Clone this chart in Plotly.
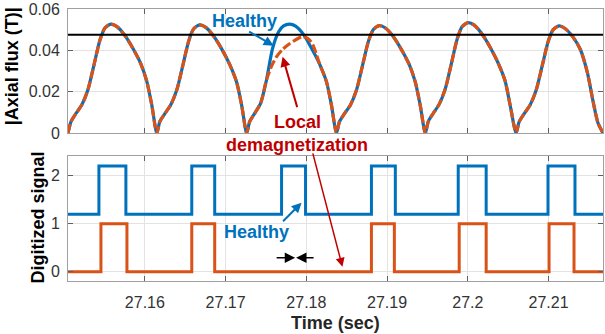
import plotly.graph_objects as go

# ---------------- data ----------------
X_START, X_END = 27.15048, 27.21674
x_ticks = [27.16, 27.17, 27.18, 27.19, 27.20, 27.21]
x_tick_labels = ["27.16", "27.17", "27.18", "27.19", "27.2", "27.21"]
threshold = 0.0475

# |Axial flux| samples, cycle by cycle (time in s, flux in T)
c1_t = [27.15048, 27.15085, 27.15147, 27.15221, 27.15295, 27.15369, 27.15444, 27.15505,
        27.15579, 27.15654, 27.15753, 27.15851, 27.15950, 27.16024, 27.16086]
c1_v = [0, 0.0055, 0.0095, 0.0138, 0.021, 0.0328, 0.045, 0.0508,
        0.0527, 0.0515, 0.0472, 0.041, 0.0335, 0.025, 0.0135]

c2_t = [27.16148, 27.16185, 27.16247, 27.16321, 27.16395, 27.16469, 27.16544, 27.16605,
        27.16679, 27.16754, 27.16853, 27.16951, 27.17050, 27.17135, 27.17199]
c2_v = [0, 0.0055, 0.0094, 0.0137, 0.0208, 0.0325, 0.0447, 0.0504,
        0.0523, 0.0511, 0.0468, 0.0407, 0.0332, 0.0248, 0.0134]

c3_healthy_t = [27.17261, 27.17298, 27.17360, 27.17434, 27.17508, 27.17582, 27.17657, 27.17718,
                27.17792, 27.17867, 27.17966, 27.18064, 27.18163, 27.18248, 27.18311]
c3_healthy_v = [0, 0.0055, 0.0095, 0.0145, 0.026, 0.041, 0.049, 0.0518,
                0.0527, 0.0517, 0.0476, 0.041, 0.0335, 0.025, 0.0135]

c3_demag_t = [27.17261, 27.17298, 27.17360, 27.17434, 27.17508, 27.17570, 27.17632, 27.17706,
              27.17792, 27.17891, 27.17953, 27.18015, 27.18077, 27.18163, 27.18248, 27.18311]
c3_demag_v = [0, 0.0055, 0.0095, 0.0145, 0.026, 0.0325, 0.037, 0.0405,
              0.0432, 0.0456, 0.0466, 0.0458, 0.043, 0.0335, 0.025, 0.0135]

c4_t = [27.18373, 27.18410, 27.18472, 27.18546, 27.18620, 27.18694, 27.18769, 27.18830,
        27.18904, 27.18979, 27.19078, 27.19176, 27.19275, 27.19349, 27.19411]
c4_v = [0, 0.0055, 0.0094, 0.0136, 0.0207, 0.0324, 0.0444, 0.0501,
        0.052, 0.0508, 0.0466, 0.0405, 0.0331, 0.0247, 0.0133]

c5_t = [27.19473, 27.19510, 27.19572, 27.19646, 27.19720, 27.19794, 27.19869, 27.19930,
        27.20004, 27.20079, 27.20178, 27.20276, 27.20375, 27.20461, 27.20523]
c5_v = [0, 0.0056, 0.0096, 0.014, 0.0213, 0.0332, 0.0456, 0.0515,
        0.0534, 0.0522, 0.0478, 0.0415, 0.0339, 0.0253, 0.0137]

c6_t = [27.20598, 27.20635, 27.20697, 27.20771, 27.20845, 27.20919, 27.20994, 27.21055,
        27.21129, 27.21204, 27.21303, 27.21395, 27.21482, 27.21550, 27.21611, 27.21674]
c6_v = [0, 0.0054, 0.0093, 0.0136, 0.0206, 0.0322, 0.0442, 0.0499,
        0.0518, 0.0506, 0.0464, 0.0403, 0.029, 0.0155, 0.005, 0]

# digitized signal pulse edges (s)
healthy_rise = [27.15431, 27.16581, 27.17693, 27.18806, 27.19881, 27.20993]
healthy_fall = [27.15765, 27.16865, 27.17990, 27.19102, 27.20227, 27.21327]
demag_rise = [27.15456, 27.16581, 27.18806, 27.19893, 27.21006]
demag_fall = [27.15778, 27.16865, 27.19090, 27.20227, 27.21315]
healthy_levels = (1.2, 2.2)
demag_levels = (0.0, 1.0)

# ---------------- build traces ----------------
healthy_t = c1_t + c2_t + c3_healthy_t + c4_t + c5_t + c6_t
healthy_v = c1_v + c2_v + c3_healthy_v + c4_v + c5_v + c6_v
demag_t = c1_t + c2_t + c3_demag_t + c4_t + c5_t + c6_t
demag_v = c1_v + c2_v + c3_demag_v + c4_v + c5_v + c6_v


def steps(rises, falls, lo, hi):
    xs, ys = [X_START], [lo]
    for r, f in zip(rises, falls):
        xs += [r, r, f, f]
        ys += [lo, hi, hi, lo]
    xs.append(X_END)
    ys.append(lo)
    return xs, ys


BLUE = "#0072BD"
ORANGE = "#D95319"
RED = "#C00000"
FONT = "Liberation Sans, Arial, sans-serif"

fig = go.Figure()
fig.add_trace(go.Scatter(x=healthy_t, y=healthy_v, mode="lines",
                         line=dict(color=BLUE, width=3.2, shape="spline", smoothing=0.7),
                         xaxis="x", yaxis="y"))
fig.add_trace(go.Scatter(x=demag_t, y=demag_v, mode="lines",
                         line=dict(color=ORANGE, width=3.2, shape="spline", smoothing=0.7,
                                   dash="9px,3px"),
                         xaxis="x", yaxis="y"))
fig.add_trace(go.Scatter(x=[X_START, X_END], y=[threshold, threshold], mode="lines",
                         line=dict(color="black", width=2), xaxis="x", yaxis="y"))

hx, hy = steps(healthy_rise, healthy_fall, *healthy_levels)
dx, dy = steps(demag_rise, demag_fall, *demag_levels)
fig.add_trace(go.Scatter(x=hx, y=hy, mode="lines", line=dict(color=BLUE, width=3),
                         xaxis="x2", yaxis="y2"))
fig.add_trace(go.Scatter(x=dx, y=dy, mode="lines", line=dict(color=ORANGE, width=3),
                         xaxis="x2", yaxis="y2"))

axis_common = dict(showline=True, linecolor="#a0a0a0", linewidth=1, mirror="ticks",
                   ticks="inside", ticklen=5, tickcolor="#606060",
                   showgrid=True, gridcolor="#e3e3e3", gridwidth=1, zeroline=False,
                   ticklabeloverflow="allow",
                   tickfont=dict(family=FONT, size=16, color="#333333"))

fig.update_layout(
    width=605, height=334, showlegend=False,
    paper_bgcolor="white", plot_bgcolor="white",
    margin=dict(l=68, r=1, t=7, b=53),
    xaxis=dict(domain=[0, 1], anchor="y", range=[X_START, X_END], tickvals=x_ticks,
               showticklabels=False, **axis_common),
    yaxis=dict(domain=[0.5438, 1], anchor="x", range=[0, 0.06],
               tickvals=[0, 0.02, 0.04, 0.06], ticktext=["0", "0.02", "0.04", "0.06"],
               ticklabelstandoff=4, **axis_common),
    xaxis2=dict(domain=[0, 1], anchor="y2", range=[X_START, X_END], tickvals=x_ticks,
                ticktext=x_tick_labels, ticklabelstandoff=7, **axis_common),
    yaxis2=dict(domain=[0, 0.4599], anchor="x2", range=[-0.19, 2.41],
                tickvals=[0, 1, 2], ticktext=["0", "1", "2"], ticklabelstandoff=4,
                **axis_common),
)

bold18 = dict(family=FONT, size=18)
anns = [
    # axis titles
    dict(text="<b>|Axial flux (T)|</b>", xref="paper", yref="paper", x=-0.1045, y=0.79,
         textangle=-90, showarrow=False, font=dict(color="black", **bold18),
         xanchor="center", yanchor="middle"),
    dict(text="<b>Digitized signal</b>", xref="paper", yref="paper", x=-0.056, y=0.234,
         textangle=-90, showarrow=False, font=dict(color="black", **bold18),
         xanchor="center", yanchor="middle"),
    dict(text="<b>Time (sec)</b>", xref="paper", yref="paper", x=0.5, y=-0.153,
         showarrow=False, font=dict(color="#262626", **bold18),
         xanchor="center", yanchor="middle"),
    # labels
    dict(text="<b>Healthy</b>", xref="x", yref="y", x=27.17236, y=0.05424,
         showarrow=False, font=dict(color=BLUE, **bold18), xanchor="center", yanchor="middle"),
    dict(text="<b>Local</b>", xref="x", yref="y", x=27.17891, y=0.00528,
         showarrow=False, font=dict(color=RED, **bold18), xanchor="center", yanchor="middle"),
    dict(text="<b>demagnetization</b>", xref="x", yref="paper", x=27.17879, y=0.5,
         showarrow=False, font=dict(color=RED, **bold18), xanchor="center", yanchor="middle"),
    dict(text="<b>Healthy</b>", xref="x2", yref="y2", x=27.17384, y=0.833,
         showarrow=False, font=dict(color=BLUE, **bold18), xanchor="center", yanchor="middle"),
    # arrows
    dict(text="", xref="x", yref="y", x=27.17595, y=0.04224, ax=-26, ay=-15,
         showarrow=True, arrowhead=2, arrowsize=1, arrowwidth=2, arrowcolor=BLUE),
    dict(text="", xref="x", yref="y", x=27.17706, y=0.03696, ax=15, ay=52,
         showarrow=True, arrowhead=2, arrowsize=1, arrowwidth=2, arrowcolor=RED),
    dict(text="", xref="x2", yref="y2", x=27.18447, y=0.104, ax=-30, ay=-115,
         showarrow=True, arrowhead=2, arrowsize=1.2, arrowwidth=1.5, arrowcolor=RED),
    dict(text="", xref="x2", yref="y2", x=27.17941, y=1.4375, ax=-20, ay=20,
         showarrow=True, arrowhead=2, arrowsize=1, arrowwidth=2, arrowcolor=BLUE),
    dict(text="", xref="x2", yref="y2", x=27.17861, y=0.292, ax=-20, ay=0,
         showarrow=True, arrowhead=2, arrowsize=1.3, arrowwidth=1.6, arrowcolor="black"),
    dict(text="", xref="x2", yref="y2", x=27.17873, y=0.292, ax=19, ay=0,
         showarrow=True, arrowhead=2, arrowsize=1.3, arrowwidth=1.6, arrowcolor="black"),
]
fig.update_layout(annotations=anns)

fig.write_html("out.html")
